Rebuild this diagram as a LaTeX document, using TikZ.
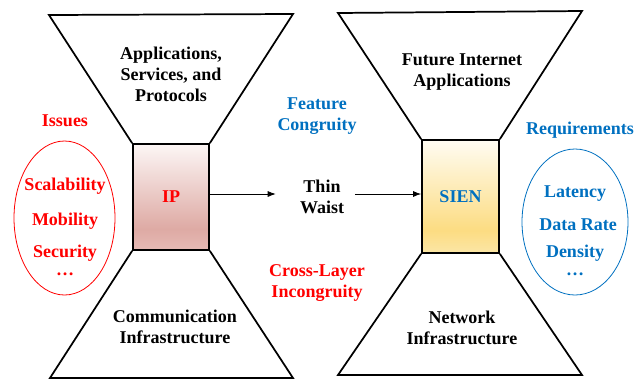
\documentclass[tikz,border=0pt]{standalone}
\usepackage{fontspec}
\setmainfont{Liberation Serif}
\usetikzlibrary{arrows.meta}

\definecolor{issuered}{HTML}{FF0000}
\definecolor{reqblue}{HTML}{0070C0}
\definecolor{iptop}{HTML}{FCF6F5}
\definecolor{ipmid}{HTML}{DEAAA4}
\definecolor{ipbot}{HTML}{E6BAB5}
\definecolor{sientop}{HTML}{FFFCF2}
\definecolor{sienmid}{HTML}{FCDC82}
\definecolor{sienbot}{HTML}{FBE6A6}

\pgfdeclareverticalshading{ipshade}{100bp}{color(0bp)=(ipbot); color(25bp)=(ipbot); color(35bp)=(ipmid); color(75bp)=(iptop); color(100bp)=(iptop)}
\pgfdeclareverticalshading{sienshade}{100bp}{color(0bp)=(sienbot); color(25bp)=(sienbot); color(35bp)=(sienmid); color(75bp)=(sientop); color(100bp)=(sientop)}

\tikzset{
	lbl/.style={font=\fontsize{13.5}{15.75}\selectfont\bfseries, align=center, inner sep=0pt},
	waistbox/.style={lbl, draw=black, line width=1.3pt, minimum width=57pt, minimum height=79.5pt},
	funnel/.style={draw=black, line width=1.3pt},
	flow/.style={-{Latex[length=6pt,width=4.5pt]}, line width=0.6pt},
}

\begin{document}
\begin{tikzpicture}[x=0.75pt, y=-0.75pt]
		\useasboundingbox (0,0) rectangle (635,379);
		% left hourglass
		\node[waistbox, shading=ipshade, text=issuered] (ip) at (171,197) {IP};
		\draw[funnel] (ip.north west) -- (49,15) -- (293,14) -- (ip.north east);
		\draw[funnel] (ip.south west) -- (50,378) -- (293,378) -- (ip.south east);
		\node[lbl] (apps) at (171,74) {Applications,\\Services, and\\Protocols};
		\node[lbl] (comm) at (175,327) {Communication\\Infrastructure};
		\node[lbl, text=issuered] (issues) at (65,121) {Issues};
		\draw[issuered, line width=0.6pt] (64.5,218) ellipse [x radius=50.5, y radius=77];
		\foreach \txt/\y in {Scalability/186, Mobility/221, Security/253, \ldots/274} {
			\node[lbl, text=issuered] (iss\y) at (65,\y) {\txt};
		}
		% right hourglass
		\node[waistbox, shading=sienshade, text=reqblue, minimum width=57.75pt, minimum height=84.75pt] (sien) at (460.5,196.5) {SIEN};
		\draw[funnel] (sien.north west) -- (338,13) -- (582,11) -- (sien.north east);
		\draw[funnel] (sien.south west) -- (338,375) -- (582,375) -- (sien.south east);
		\node[lbl] (future) at (462,72) {Future Internet\\Applications};
		\node[lbl] (netinf) at (462,327.5) {Network\\Infrastructure};
		\node[lbl, text=reqblue] (reqs) at (580,130) {Requirements};
		\draw[reqblue, line width=0.6pt] (575,222) ellipse [x radius=53, y radius=73];
		\foreach \txt/\x/\y in {Latency/575/194, Data Rate/578/225, Density/575/253, \ldots/575/274} {
			\node[lbl, text=reqblue] (req\y) at (\x,\y) {\txt};
		}
		% middle
		\node[lbl] (waist) at (322,196.5) {Thin\\Waist};
		\node[lbl, text=reqblue] (congr) at (317,116.5) {Feature\\Congruity};
		\node[lbl, text=issuered] (incongr) at (317,283.5) {Cross-Layer\\Incongruity};
		\draw[flow, shorten >=18pt] (ip.east |- 0,194) -- (waist.west |- 0,194);
		\draw[flow, shorten <=8pt] (waist.east |- 0,194) -- (sien.west |- 0,194);
	\end{tikzpicture}
\end{document}
